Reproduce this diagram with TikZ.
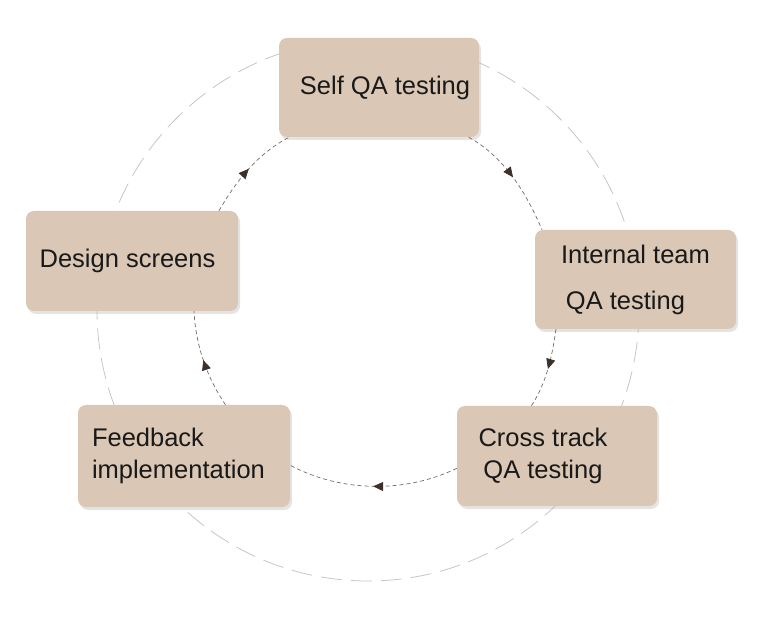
\documentclass[tikz,border=0pt]{standalone}
\usepackage{xcolor}
\usepackage{fontspec}
\setmainfont{Liberation Sans}
\usepackage{tikz}
\usetikzlibrary{arrows.meta, shadows, decorations.markings}
\definecolor{boxtan}{HTML}{DAC7B5}
\definecolor{ringgray}{HTML}{C6C6C6}
\definecolor{flowbrown}{HTML}{7A6A60}
\definecolor{tipbrown}{HTML}{3B302A}

\begin{document}
\begin{tikzpicture}[
        x=1pt, y=1pt,
        stage/.style={rectangle, fill=boxtan, rounded corners=8pt, minimum width=200pt, minimum height=99pt, inner sep=0pt, align=center, text=black!90, font=\fontsize{25.5}{32}\selectfont, drop shadow={shadow xshift=2pt, shadow yshift=-3pt, fill=black!30, opacity=0.35}},
        ring/.style={draw=ringgray, line width=0.8pt, dash pattern=on 21pt off 9pt},
        flow/.style={draw=flowbrown, line width=0.7pt, dash pattern=on 4pt off 3pt, looseness=0.88, postaction={decorate}, decoration={markings, mark=at position 0.5 with {\arrow{Triangle[length=10pt, width=9pt, color=tipbrown, fill=tipbrown]}}}}
    ]
        \useasboundingbox (0,0) rectangle (760,616);
        \coordinate (hub) at (368,306);
        \draw[ring] (hub) circle[radius=271];

        % Nodes
        \node (self) [stage] at (379,528.5) {\hspace*{12pt}Self QA testing};
        \node (internal) [stage, minimum width=201pt] at (635.5,336.5) {Internal team\\[14pt]QA testing\hspace*{20pt}};
        \node (cross) [stage, minimum height=100pt] at (557,160) {Cross track\hspace*{28pt}\\QA testing\hspace*{28pt}};
        \node (feedback) [stage, minimum width=212pt, minimum height=102pt, align=left, text width=184pt] at (184,160) {Feedback\\implementation};
        \node (design) [stage, minimum width=212pt, minimum height=100pt] at (132,355) {Design screens\hspace*{9pt}};

        % Arrows
        \draw[flow] (self.-29) to[out=-29, in=113] (internal.152);
        \draw[flow] (internal.212) to[out=-98, in=57] (cross.117);
        \draw[flow] (cross.187) to[out=-154, in=-28] (feedback.-5);
        \draw[flow] (feedback.51) to[out=124, in=-87] (design.-39);
        \draw[flow] (design.30) to[out=60, in=207] (self.209);
    \end{tikzpicture}
\end{document}
